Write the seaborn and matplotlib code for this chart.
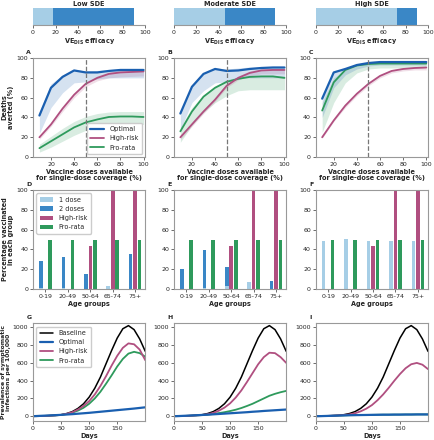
import numpy as np
import pandas as pd
import matplotlib
matplotlib.use("Agg")
import matplotlib.pyplot as plt
import seaborn as sns

sns.set_style("ticks")
plt.rcParams['font.family'] = ['DejaVu Sans']

# ---------------- data ----------------
sde_titles = ["Low SDE", "Moderate SDE", "High SDE"]
sde_light = [18, 45, 72]
sde_max = [90, 90, 90]

doses = [10, 20, 30, 40, 50, 60, 70, 80, 90, 100]

# Panel A
A_opt = [42, 70, 81, 87.5, 85.5, 85.5, 87, 88, 88, 88]
A_opt_lo = [24, 50, 65, 75, 76, 79, 80, 80, 80, 80]
A_opt_hi = [46, 74, 83, 88.5, 87, 87.5, 88.5, 89, 89, 89]
A_hr = [20, 33, 49, 63, 74, 80, 84, 85.5, 86, 86.5]
A_hr_lo = [18, 31, 46, 60, 71, 77, 80, 81, 81.5, 82]
A_hr_hi = [21, 34, 50, 64, 75, 82, 86, 88, 89, 89]
A_pr = [9, 16, 23, 30, 35, 38, 40.5, 41, 41, 40.5]
A_pr_lo = [5, 10, 16, 22, 27, 30, 32, 33, 33, 33]
A_pr_hi = [13, 21, 29, 36, 41, 44, 45.5, 46, 46, 46]

# Panel B
B_opt = [44, 71, 84, 89, 87, 87.5, 89, 90, 90.5, 90.5]
B_opt_lo = [28, 55, 67, 75, 76, 80, 80, 80, 80, 80]
B_opt_hi = [47, 73, 85, 90, 89, 90, 91, 91, 91, 91]
B_hr = [20, 33, 46, 58, 72, 80, 85, 87.5, 88, 88]
B_hr_lo = [18, 31, 44, 56, 70, 78, 82, 84, 84, 84]
B_hr_hi = [21, 34, 47, 60, 74, 82, 87, 89, 89.5, 89.5]
B_pr = [26, 46, 61, 70, 76, 79, 81, 81.5, 81.5, 80]
B_pr_lo = [15, 32, 45, 55, 62, 67, 68, 68, 68, 68]
B_pr_hi = [30, 50, 63, 72, 78, 81, 82, 82, 82, 82]

# Panel C
C_opt = [59, 85.5, 89, 93, 95, 96, 96, 96, 96, 96]
C_opt_lo = [40, 70, 83, 89, 92, 93, 93, 93, 93, 93]
C_opt_hi = [62, 86, 90, 93.5, 95.5, 96.5, 96.5, 96.5, 96.5, 96.5]
C_hr = [20, 37, 52, 64, 74, 82, 87, 89, 90, 90.5]
C_hr_lo = [19, 36, 50, 62, 72, 80, 85, 87, 88, 88]
C_hr_hi = [21, 38, 53, 65, 75, 83, 88, 90, 91, 91]
C_pr = [47, 75.5, 88, 92.5, 94, 94.5, 94.5, 94.5, 94.5, 94.5]
C_pr_lo = [25, 55, 75, 85, 89, 90, 90, 90, 90, 90]
C_pr_hi = [55, 80, 88.5, 92.5, 94.5, 95, 95, 95, 95, 95]

age_groups = ["0-19", "20-49", "50-64", "65-74", "75+"]
D_one = [1.5, 1, 0, 3, 0]
D_two = [27, 31, 15, 0, 35]
D_hr = [0, 0, 44, 100, 100]
D_pr = [50, 50, 50, 50, 50]
E_one = [0, 1, 3, 7, 0]
E_two = [20, 38, 19, 0, 8]
E_hr = [0, 0, 44, 100, 100]
E_pr = [50, 50, 50, 50, 50]
F_one = [49, 51, 49, 49, 49]
F_two = [0, 0, 0, 0, 0]
F_hr = [0, 0, 44, 100, 100]
F_pr = [50, 50, 50, 50, 50]

days = [0, 10, 20, 30, 40, 50, 60, 70, 80, 90, 100, 110, 120, 130, 140, 150,
        160, 170, 180, 190, 200]
baseline = [0, 1, 3, 6, 10, 17, 30, 52, 88, 140, 215, 315, 440, 590, 740, 880,
            985, 1020, 975, 870, 730]
G_opt = [0, 3, 6, 9, 12, 15, 19, 23, 28, 33, 38, 44, 50, 56, 62, 68, 74, 80, 86, 93, 100]
G_hr = [0, 1, 3, 6, 9, 15, 27, 45, 75, 115, 170, 245, 340, 450, 570, 680, 770, 820, 810, 750, 630]
G_pr = [0, 1, 3, 6, 9, 14, 24, 40, 63, 95, 140, 200, 275, 365, 460, 560, 645, 705, 725, 710, 670]
H_opt = [0, 2, 5, 8, 11, 14, 17, 21, 25, 29, 33, 37, 41, 45, 50, 54, 59, 63, 67, 71, 75]
H_hr = [0, 1, 3, 6, 9, 13, 22, 37, 62, 97, 145, 210, 290, 385, 485, 585, 665, 715, 710, 665, 600]
H_pr = [0, 1, 3, 6, 9, 12, 17, 25, 35, 45, 58, 73, 92, 115, 140, 170, 200, 230, 252, 270, 285]
I_opt = [0, 1, 3, 5, 7, 9, 11, 12, 13, 14, 15, 16, 17, 17, 18, 18, 19, 19, 20, 20, 20]
I_hr = [0, 1, 3, 6, 9, 12, 20, 33, 55, 85, 125, 180, 245, 320, 400, 475, 540, 585, 600, 580, 530]
I_pr = [0, 1, 3, 5, 7, 9, 11, 12, 13, 14, 15, 16, 17, 17, 18, 18, 19, 19, 20, 20, 20]

# ---------------- styles ----------------
C_OPT = "#1a5fb0"
C_HR = "#b04f80"
C_PR = "#2e9a5c"
C_LIGHT = "#a6cee6"
C_DARK = "#3a87c6"
SPINE = "#999999"
FS = 4.5
LFS = 4.7

fig = plt.figure(figsize=(4.35, 4.4), dpi=100)
lefts = [0.076, 0.400, 0.726]
W = 0.258


def style_box(ax):
    for s in ax.spines.values():
        s.set_color(SPINE)
        s.set_linewidth(0.8)
    ax.tick_params(labelsize=FS, length=2, width=0.6, color="#555555", pad=1.5)


def leg(ax, handles, labels, loc):
    ax.legend(handles, labels, loc=loc, fontsize=LFS, frameon=True, handlelength=2.0,
              borderpad=0.5, labelspacing=0.5, framealpha=1, edgecolor="#cccccc",
              handletextpad=0.9)


# top SDE bars
for i in range(3):
    ax = fig.add_axes([lefts[i], 0.943, W, 0.038])
    ax.barh([0], [sde_light[i]], height=1, color=C_LIGHT, left=0, linewidth=0)
    ax.barh([0], [sde_max[i] - sde_light[i]], height=1, color=C_DARK,
            left=sde_light[i], linewidth=0)
    ax.set_xlim(0, 100)
    ax.set_ylim(-0.5, 0.5)
    ax.set_yticks([])
    ax.set_xticks([0, 20, 40, 60, 80, 100])
    for s in ["left", "right", "top"]:
        ax.spines[s].set_visible(False)
    style_box(ax)
    ax.set_title(sde_titles[i], fontsize=LFS, fontweight="bold", pad=2)
    ax.set_xlabel("VE$_{\\mathbf{DIS}}$ efficacy", fontsize=LFS, fontweight="bold", labelpad=1)

# row 1: deaths averted
rowA = [
    (A_opt, A_opt_lo, A_opt_hi, A_hr, A_hr_lo, A_hr_hi, A_pr, A_pr_lo, A_pr_hi),
    (B_opt, B_opt_lo, B_opt_hi, B_hr, B_hr_lo, B_hr_hi, B_pr, B_pr_lo, B_pr_hi),
    (C_opt, C_opt_lo, C_opt_hi, C_hr, C_hr_lo, C_hr_hi, C_pr, C_pr_lo, C_pr_hi),
]
letters = "ABCDEFGHI"
for i in range(3):
    ax = fig.add_axes([lefts[i], 0.643, W, 0.225])
    o, olo, ohi, h, hlo, hhi, p, plo, phi = rowA[i]
    ax.fill_between(doses, plo, phi, color=C_PR, alpha=0.18, lw=0)
    ax.fill_between(doses, hlo, hhi, color=C_HR, alpha=0.18, lw=0)
    ax.fill_between(doses, olo, ohi, color=C_OPT, alpha=0.18, lw=0)
    sns.lineplot(x=doses, y=p, color=C_PR, lw=1.3, ax=ax, label="Pro-rata")
    sns.lineplot(x=doses, y=h, color=C_HR, lw=1.3, ax=ax, label="High-risk")
    sns.lineplot(x=doses, y=o, color=C_OPT, lw=1.6, ax=ax, label="Optimal")
    ax.axvline(50, color="#777777", ls="--", lw=0.9)
    ax.set_xlim(4.5, 101.5)
    ax.set_ylim(0, 100)
    ax.set_xticks([20, 40, 60, 80, 100])
    ax.set_yticks([0, 20, 40, 60, 80, 100])
    style_box(ax)
    ax.set_xlabel("Vaccine doses available\nfor single-dose coverage (%)", fontsize=LFS,
                  fontweight="bold", labelpad=1.5, linespacing=1.0)
    ax.set_ylabel("Deaths\naverted (%)" if i == 0 else "", fontsize=LFS, fontweight="bold",
                  labelpad=2, linespacing=1.0)
    if i == 0:
        hnd, lab = ax.get_legend_handles_labels()
        want = ["Optimal", "High-risk", "Pro-rata"]
        leg(ax, [hnd[lab.index(w)] for w in want], want, "lower right")
    else:
        ax.get_legend().remove()
    ax.text(-0.06, 1.03, letters[i], transform=ax.transAxes, fontsize=FS,
            fontweight="bold", ha="left", va="bottom")

# row 2: bars
rowD = [(D_one, D_two, D_hr, D_pr), (E_one, E_two, E_hr, E_pr), (F_one, F_two, F_hr, F_pr)]
xs = np.arange(len(age_groups))
bw = 0.16
off = 0.2
for i in range(3):
    ax = fig.add_axes([lefts[i], 0.343, W, 0.225])
    one, two, hr, pr = rowD[i]
    ax.bar(xs - off, one, width=bw, color=C_LIGHT, label="1 dose", linewidth=0)
    ax.bar(xs - off, two, width=bw, bottom=one, color=C_DARK, label="2 doses", linewidth=0)
    ax.bar(xs, hr, width=bw, color=C_HR, label="High-risk", linewidth=0)
    ax.bar(xs + off, pr, width=bw, color=C_PR, label="Pro-rata", linewidth=0)
    ax.set_xlim(-0.55, 4.45)
    ax.set_ylim(0, 100)
    ax.set_xticks(xs)
    ax.set_xticklabels(age_groups)
    ax.set_yticks([0, 20, 40, 60, 80, 100])
    style_box(ax)
    ax.set_xlabel("Age groups", fontsize=LFS, fontweight="bold", labelpad=1.5)
    if i == 0:
        ax.set_ylabel("Percentage vaccinated\nin each group", fontsize=LFS,
                      fontweight="bold", labelpad=2, linespacing=1.0)
        hnd, lab = ax.get_legend_handles_labels()
        leg(ax, hnd, lab, "upper left")
    ax.text(-0.06, 1.03, letters[3 + i], transform=ax.transAxes, fontsize=FS,
            fontweight="bold", ha="left", va="bottom")

# row 3: prevalence
rowG = [(G_opt, G_hr, G_pr), (H_opt, H_hr, H_pr), (I_opt, I_hr, I_pr)]
for i in range(3):
    ax = fig.add_axes([lefts[i], 0.043, W, 0.222])
    o, h, p = rowG[i]
    sns.lineplot(x=days, y=baseline, color="black", lw=1.1, ax=ax, label="Baseline")
    sns.lineplot(x=days, y=p, color=C_PR, lw=1.3, ax=ax, label="Pro-rata")
    sns.lineplot(x=days, y=h, color=C_HR, lw=1.3, ax=ax, label="High-risk")
    sns.lineplot(x=days, y=o, color=C_OPT, lw=1.6, ax=ax, label="Optimal")
    ax.set_xlim(0, 200)
    ax.set_ylim(-55, 1045)
    ax.set_xticks([0, 50, 100, 150])
    ax.set_yticks([0, 200, 400, 600, 800, 1000])
    style_box(ax)
    ax.set_xlabel("Days", fontsize=LFS, fontweight="bold", labelpad=1.5)
    if i == 0:
        ax.set_ylabel("Prevalence of symptomatic\ninfections per 100,000", fontsize=4.4,
                      fontweight="bold", linespacing=1.0)
        ax.yaxis.set_label_coords(-0.195, 0.5)
        hnd, lab = ax.get_legend_handles_labels()
        want = ["Baseline", "Optimal", "High-risk", "Pro-rata"]
        leg(ax, [hnd[lab.index(w)] for w in want], want, "upper left")
    else:
        ax.get_legend().remove()
    ax.text(-0.06, 1.03, letters[6 + i], transform=ax.transAxes, fontsize=FS,
            fontweight="bold", ha="left", va="bottom")

fig.savefig("out.png", dpi=100)
